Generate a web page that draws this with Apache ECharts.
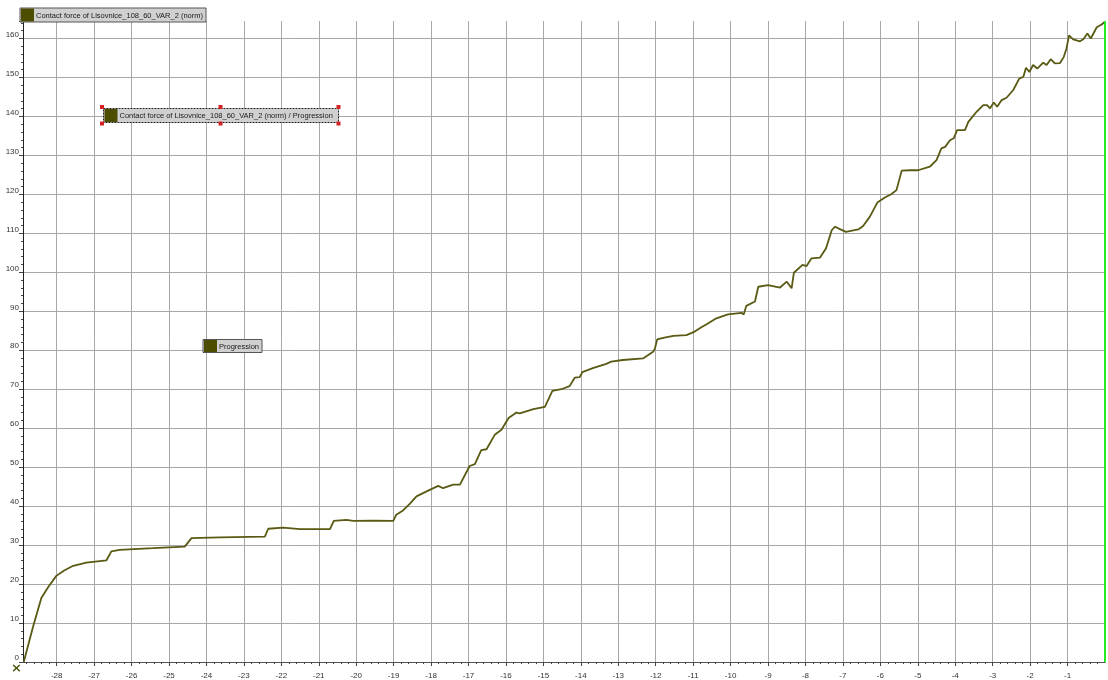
<!DOCTYPE html>
<html>
<head>
<meta charset="utf-8">
<script src="https://cdn.jsdelivr.net/npm/echarts@6/dist/echarts.min.js"></script>
<style>
  html, body { margin: 0; padding: 0; background: #fff; }
  #main { width: 1108px; height: 680px; }
</style>
</head>
<body>
<div id="main"></div>
<script>
// stroke position (x) and contact force (y)
var xValues = [-28.88, -28.63, -28.41, -28.23, -28.01, -27.80, -27.56, -27.21, -26.67, -26.54,
  -26.32, -25.43, -24.58, -24.40, -23.65, -22.44, -22.35, -21.95, -21.50, -20.70,
  -20.60, -20.26, -20.08, -19.55, -19.01, -18.93, -18.75, -18.57, -18.39, -18.12,
  -17.81, -17.68, -17.41, -17.23, -16.97, -16.83, -16.66, -16.52, -16.30, -16.12,
  -15.93, -15.72, -15.63, -15.27, -14.96, -14.76, -14.52, -14.30, -14.16, -14.03,
  -13.96, -13.68, -13.32, -13.19, -12.88, -12.34, -12.07, -12.02, -11.96, -11.80,
  -11.53, -11.18, -10.96, -10.78, -10.64, -10.38, -10.07, -9.71, -9.65, -9.58,
  -9.35, -9.26, -9.00, -8.68, -8.50, -8.37, -8.31, -8.08, -7.97, -7.84,
  -7.61, -7.45, -7.30, -7.21, -7.08, -6.92, -6.59, -6.46, -6.28, -6.08,
  -5.88, -5.70, -5.57, -5.43, -5.21, -4.99, -4.68, -4.50, -4.37, -4.27,
  -4.14, -4.04, -3.95, -3.74, -3.65, -3.43, -3.25, -3.15, -3.07, -2.97,
  -2.88, -2.76, -2.63, -2.45, -2.29, -2.18, -2.11, -2.02, -1.92, -1.81,
  -1.65, -1.56, -1.45, -1.34, -1.20, -1.10, -1.03, -0.96, -0.85, -0.67,
  -0.58, -0.47, -0.38, -0.22, -0.09, 0];
var forceValues = [0, 9.1, 16.4, 19.2, 22.1, 23.5, 24.7, 25.5, 26.1, 28.4,
  28.8, 29.2, 29.6, 31.8, 32.0, 32.2, 34.2, 34.5, 34.1, 34.1,
  36.2, 36.5, 36.2, 36.3, 36.2, 37.8, 38.9, 40.6, 42.5, 43.8,
  45.2, 44.6, 45.5, 45.5, 50.3, 50.8, 54.4, 54.6, 58.3, 59.6,
  62.6, 64.0, 63.8, 64.9, 65.5, 69.6, 70.0, 70.8, 73.0, 73.1,
  74.4, 75.4, 76.5, 77.1, 77.5, 77.9, 79.6, 80.5, 82.8, 83.2,
  83.7, 83.9, 84.8, 85.9, 86.7, 88.2, 89.2, 89.6, 89.2, 91.4,
  92.5, 96.3, 96.7, 96.1, 97.6, 95.9, 99.9, 101.9, 101.6, 103.6,
  103.8, 106.2, 110.8, 111.7, 111.1, 110.4, 111.0, 111.9, 114.3, 117.9,
  119.2, 120.1, 121.1, 126.1, 126.2, 126.2, 127.1, 128.8, 131.8, 132.2,
  133.9, 134.4, 136.5, 136.5, 138.6, 141.2, 142.9, 142.9, 142.1, 143.6,
  142.5, 144.2, 144.8, 146.8, 149.7, 150.2, 152.5, 151.4, 153.2, 152.3,
  153.8, 153.2, 154.7, 153.6, 153.7, 155.3, 157.4, 160.8, 159.8, 159.3,
  159.8, 161.3, 160.0, 162.9, 163.6, 164.3];

// x tick labels
var xTicks = [-28, -27, -26, -25, -24, -23, -22, -21, -20, -19, -18, -17, -16, -15,
  -14, -13, -12, -11, -10, -9, -8, -7, -6, -5, -4, -3, -2, -1];

var seriesName = "Contact force of Lisovnice_108_60_VAR_2 (norm)";
var curveLabel = "Contact force of Lisovnice_108_60_VAR_2 (norm) / Progression";
var axisLabelName = "Progression";

var xMin = -28.9;
var olive = "#4d4d00";
var labelFont = '7.5px "Liberation Sans", Arial, sans-serif';

var points = [];
for (var i = 0; i < xValues.length; i++) {
  points.push([xValues[i], forceValues[i]]);
}

// minor ticks, 5 steps per unit
var xMinor = [];
for (var k = Math.ceil(xMin * 5); k < 0; k++) {
  if (k % 5 !== 0) xMinor.push(k / 5);
}

function tagBox(x, y, w, h, text, dashed) {
  return {
    type: "group",
    z: 100,
    children: [
      {
        type: "rect",
        z: 100,
        shape: { x: x, y: y, width: w, height: h },
        style: { fill: "#d0d0d0", stroke: dashed ? "#222" : "#555", lineWidth: 1, lineDash: dashed ? [2, 1] : null }
      },
      {
        type: "rect",
        z: 101,
        shape: { x: x + 1, y: y + 0.5, width: 13, height: h - 1 },
        style: { fill: olive }
      },
      {
        type: "text",
        z: 101,
        style: { text: text, x: x + 16, y: y + h / 2 + 0.5, verticalAlign: "middle", font: labelFont, fill: "#1a1a1a" }
      }
    ]
  };
}

function handle(cx, cy) {
  return { type: "rect", z: 102, shape: { x: cx - 2, y: cy - 2, width: 4, height: 4 }, style: { fill: "#d42020" } };
}

var myChart = echarts.init(document.getElementById("main"));

myChart.setOption({
  animation: false,
  backgroundColor: "#fff",
  grid: {
    left: 23,
    right: 3,
    top: 21,
    bottom: 18
  },
  xAxis: [
    {
      type: "value",
      min: xMin,
      max: 0,
      axisLine: { onZero: false, lineStyle: { color: "#555", width: 1 } },
      axisTick: { length: 4, customValues: xTicks, lineStyle: { color: "#444" } },
      axisLabel: {
        customValues: xTicks,
        margin: 10,
        color: "#333",
        fontSize: 8,
        fontFamily: "Liberation Sans"
      },
      splitLine: { show: true, lineStyle: { color: "#a8a8a8", width: 1 } }
    },
    {
      type: "value",
      min: xMin,
      max: 0,
      position: "bottom",
      axisLine: { show: false, onZero: false },
      axisTick: { show: true, length: 2, customValues: xMinor, lineStyle: { color: "#444" } },
      axisLabel: { show: false },
      splitLine: { show: false }
    }
  ],
  yAxis: {
    type: "value",
    min: 0,
    max: 164.5,
    interval: 10,
    axisLine: { show: true, onZero: false, lineStyle: { color: "#222", width: 1 } },
    axisTick: { show: true, length: 4, lineStyle: { color: "#444" } },
    minorTick: { show: true, splitNumber: 5, length: 2, lineStyle: { color: "#444" } },
    axisLabel: {
      showMaxLabel: false,
      margin: 4,
      verticalAlign: "bottom",
      color: "#333",
      fontSize: 8,
      fontFamily: "Liberation Sans"
    },
    splitLine: { show: true, showMaxLine: false, lineStyle: { color: "#a8a8a8", width: 1 } }
  },
  series: [
    {
      name: seriesName,
      type: "line",
      data: points,
      showSymbol: false,
      lineStyle: { color: "#5a5a14", width: 1.8 },
      markLine: {
        silent: true,
        symbol: "none",
        label: { show: false },
        lineStyle: { color: "#22ee22", width: 2, type: "solid" },
        data: [{ xAxis: -0.02 }]
      }
    }
  ],
  graphic: [
    tagBox(20, 8, 186, 14, seriesName, false),
    tagBox(103.5, 108.5, 235, 14, curveLabel, true),
    handle(102, 107), handle(220.5, 107), handle(338.5, 107),
    handle(102, 123.5), handle(220.5, 123.5), handle(338.5, 123.5),
    tagBox(203, 339.5, 59, 13, axisLabelName, false),
    {
      type: "text",
      z: 100,
      style: { text: "×", x: 11, y: 662, font: 'bold 13px "DejaVu Sans", sans-serif', fill: "#4a5a10" }
    }
  ]
});
</script>
</body>
</html>
